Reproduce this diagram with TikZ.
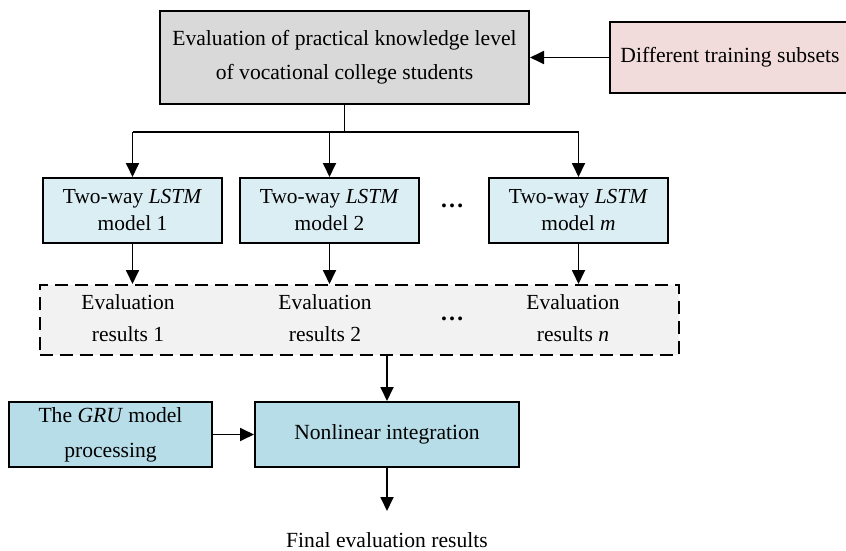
\documentclass[tikz,border=0pt]{standalone}
\usepackage{fontspec}
\setmainfont{Liberation Serif}
\usetikzlibrary{arrows.meta}
\definecolor{topgray}{HTML}{D9D9D9}
\definecolor{pinkf}{HTML}{F2DCDB}
\definecolor{lblue}{HTML}{DBEEF4}
\definecolor{dblue}{HTML}{B7DDE8}
\definecolor{dashf}{HTML}{F2F2F2}
\begin{document}
\begin{tikzpicture}[x=1pt,y=-1pt,
  box/.style={draw=black,line width=2pt,inner sep=0pt,align=center,anchor=center},
  arr/.style={line width=1.8pt,-{Triangle[length=14pt,width=13pt]}},
  ln/.style={line width=1.8pt},
  txt/.style={inner sep=0pt,align=center,font=\fontsize{21.5}{32}\selectfont}
]
\useasboundingbox (0,0) rectangle (846,551);
% top
\node[box,fill=topgray,minimum width=369pt,minimum height=93pt,font=\fontsize{21.6}{34}\selectfont] (top) at (344.5,57.5) {Evaluation of practical knowledge level\\of vocational college students};
\node[box,fill=pinkf,minimum width=240pt,minimum height=71pt,font=\fontsize{21.6}{30}\selectfont] (sub) at (730,57.5) {Different training subsets};
\draw[arr] (sub.west) -- (top.east);
% LSTM boxes
\tikzset{lstm/.style={box,fill=lblue,minimum width=179pt,minimum height=65pt,font=\fontsize{21.4}{27}\selectfont}}
\node[lstm] (l1) at (132.5,210.5) {Two-way \textit{LSTM}\\model 1};
\node[lstm] (l2) at (329.5,210.5) {Two-way \textit{LSTM}\\model 2};
\node[lstm] (lm) at (578.5,210.5) {Two-way \textit{LSTM}\\model \textit{m}};
\node[txt,font=\fontsize{24}{24}\selectfont\bfseries] (d1) at (452,206) {…};
% split
\coordinate (sp) at (344.5,132);
\coordinate (h1) at (132.5,132);
\coordinate (hm) at (578.5,132);
\draw[ln] (top.south) -- (sp);
\draw[ln] (h1) -- (hm);
\draw[arr] (h1) -- (l1.north);
\draw[arr] (l2.north |- sp) -- (l2.north);
\draw[arr] (hm) -- (lm.north);
% dashed results
\node[draw=black,line width=2pt,dash pattern=on 13pt off 7pt,fill=dashf,minimum width=639pt,minimum height=70pt,inner sep=0pt] (res) at (359.5,320) {};
\node[txt] (r1) at (128,318) {Evaluation\\results 1};
\node[txt] (r2) at (325,318) {Evaluation\\results 2};
\node[txt] (rn) at (573,318) {Evaluation\\results \textit{n}};
\node[txt,font=\fontsize{24}{24}\selectfont\bfseries] (d2) at (452,319) {…};
\draw[arr] (l1.south) -- (l1.south |- res.north);
\draw[arr] (l2.south) -- (l2.south |- res.north);
\draw[arr] (lm.south) -- (lm.south |- res.north);
% bottom
\node[box,fill=dblue,minimum width=203pt,minimum height=65pt,font=\fontsize{21.6}{35}\selectfont] (gru) at (110.5,434.5) {The \textit{GRU} model\\processing};
\node[box,fill=dblue,minimum width=264pt,minimum height=65pt,font=\fontsize{21.6}{30}\selectfont] (nl) at (387,434.5) {Nonlinear integration};
\draw[arr] (res.south -| nl.north) -- (nl.north);
\draw[arr] (gru.east) -- (nl.west);
\node[txt,font=\fontsize{21.6}{30}\selectfont] (fin) at (387,540) {Final evaluation results};
\coordinate (fa) at (387,511);
\draw[arr] (nl.south) -- (fa);
\end{tikzpicture}
\end{document}
